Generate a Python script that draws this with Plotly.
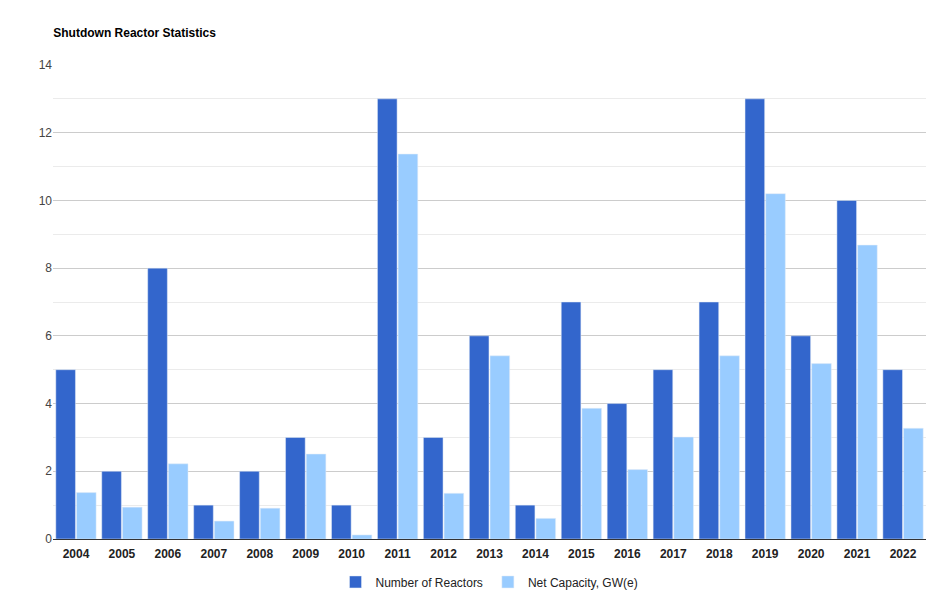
import plotly.graph_objects as go

years = [str(y) for y in range(2004, 2023)]
reactors = [5, 2, 8, 1, 2, 3, 1, 13, 3, 6, 1, 7, 4, 5, 7, 13, 6, 10, 5]
capacity = [1.37, 0.94, 2.22, 0.53, 0.91, 2.51, 0.12, 11.37, 1.35, 5.41, 0.61,
            3.86, 2.05, 3.01, 5.41, 10.2, 5.18, 8.68, 3.27]

fig = go.Figure()
fig.add_trace(go.Bar(x=years, y=reactors, name="Number of Reactors",
                     marker=dict(color="#3366cc")))
fig.add_trace(go.Bar(x=years, y=capacity, name="Net Capacity, GW(e)",
                     marker=dict(color="#99ccff")))

fig.update_layout(
    width=943, height=600,
    paper_bgcolor="white", plot_bgcolor="white",
    font=dict(family="Liberation Sans, Arial", size=12, color="#222"),
    title=dict(text="<b>Shutdown Reactor Statistics</b>", x=0.048, y=0.965,
               xanchor="left", font=dict(size=12, color="#000")),
    margin=dict(l=45, r=25, t=57, b=64),
    barmode="group", bargap=0.1, bargroupgap=0.05,
    legend=dict(orientation="h", x=0.5, xanchor="center", y=-0.06,
                yanchor="top", font=dict(size=12, color="#222")),
    xaxis=dict(tickfont=dict(size=12, color="#222"), ticks="",
               linecolor="#333", showline=True, tickangle=0),
    yaxis=dict(range=[0, 14], dtick=2, gridcolor="#cccccc",
               tickfont=dict(size=12, color="#444"), zeroline=False,
               minor=dict(dtick=1, showgrid=True, gridcolor="#ebebeb")),
)
fig.update_xaxes(tickfont=dict(family="Liberation Sans, Arial", size=12))
fig.update_layout(xaxis_tickfont=dict(size=12), font_weight=None)
fig.update_xaxes(ticklabelstandoff=4)
fig.update_xaxes(tickprefix="<b>", ticksuffix="</b>")

fig.write_html("out.html")
